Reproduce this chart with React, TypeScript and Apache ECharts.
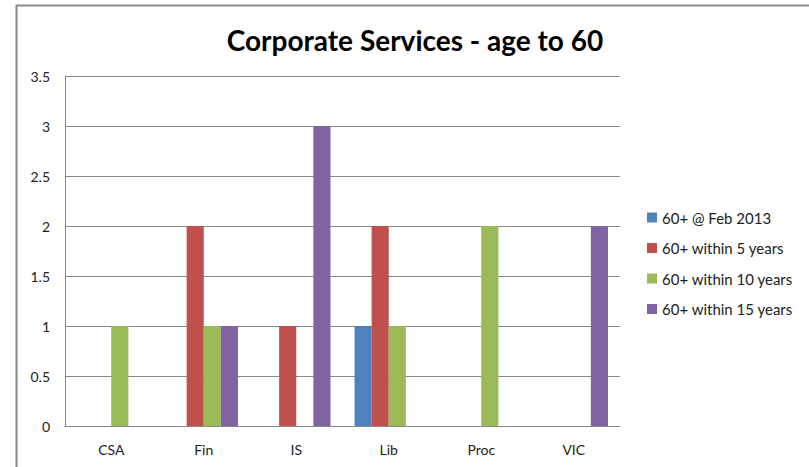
import React, { useEffect, useRef } from "react";
import * as echarts from "echarts";

const categories = ["CSA", "Fin", "IS", "Lib", "Proc", "VIC"];
const seriesNames = ["60+ @ Feb 2013", "60+ within 5 years", "60+ within 10 years", "60+ within 15 years"];
const feb2013 = [0, 0, 0, 1, 0, 0];
const within5 = [0, 2, 1, 2, 0, 0];
const within10 = [1, 1, 0, 1, 2, 0];
const within15 = [0, 1, 3, 0, 0, 2];
const colors = ["#4F81BD", "#C0504D", "#9BBB59", "#8064A2"];
const yTicks = [0, 0.5, 1, 1.5, 2, 2.5, 3, 3.5];

const FONT = "Lato, 'Open Sans', sans-serif";

export default function App() {
  const ref = useRef<HTMLDivElement>(null);
  useEffect(() => {
    document.body.style.margin = "0";
    const chart = echarts.init(ref.current!, null, { renderer: "svg" });
    const data = [feb2013, within5, within10, within15];
    chart.setOption({
      animation: false,
      backgroundColor: "#ffffff",
      title: {
        text: "Corporate Services - age to 60",
        left: 410,
        textAlign: "center",
        top: 21,
        textStyle: { fontFamily: FONT, fontSize: 28, fontWeight: "bold", color: "#000000" },
      },
      legend: {
        orient: "vertical",
        left: 647,
        top: 210,
        padding: 0,
        itemWidth: 10,
        itemHeight: 10,
        itemGap: 15.5,
        icon: "rect",
        data: seriesNames,
        textStyle: { fontFamily: FONT, fontSize: 15, color: "#222222" },
      },
      grid: { left: 65, right: 189, top: 76, bottom: 41, containLabel: false },
      xAxis: {
        type: "category",
        data: categories,
        axisLine: { show: true, lineStyle: { color: "#888888", width: 1 } },
        axisTick: { show: false },
        axisLabel: { fontFamily: FONT, fontSize: 14, color: "#222222", margin: 16 },
      },
      yAxis: {
        type: "value",
        min: yTicks[0],
        max: yTicks[yTicks.length - 1],
        interval: 0.5,
        axisLine: { show: true, lineStyle: { color: "#888888", width: 1 } },
        axisTick: { show: false },
        splitLine: { show: true, lineStyle: { color: "#888888", width: 1 } },
        axisLabel: { fontFamily: FONT, fontSize: 14, color: "#222222", margin: 15 },
      },
      series: seriesNames.map((name, i) => ({
        name,
        type: "bar",
        data: data[i],
        barGap: "0%",
        barCategoryGap: "26%",
        itemStyle: { color: colors[i] },
      })),
      graphic: [
        {
          type: "line",
          shape: { x1: 16, y1: 5.5, x2: 809, y2: 5.5 },
          style: { stroke: "#888888", lineWidth: 2 },
        },
        {
          type: "line",
          shape: { x1: 16.5, y1: 5, x2: 16.5, y2: 467 },
          style: { stroke: "#888888", lineWidth: 2 },
        },
      ],
    });
    return () => chart.dispose();
  }, []);
  return <div ref={ref} style={{ width: 809, height: 467 }} />;
}
